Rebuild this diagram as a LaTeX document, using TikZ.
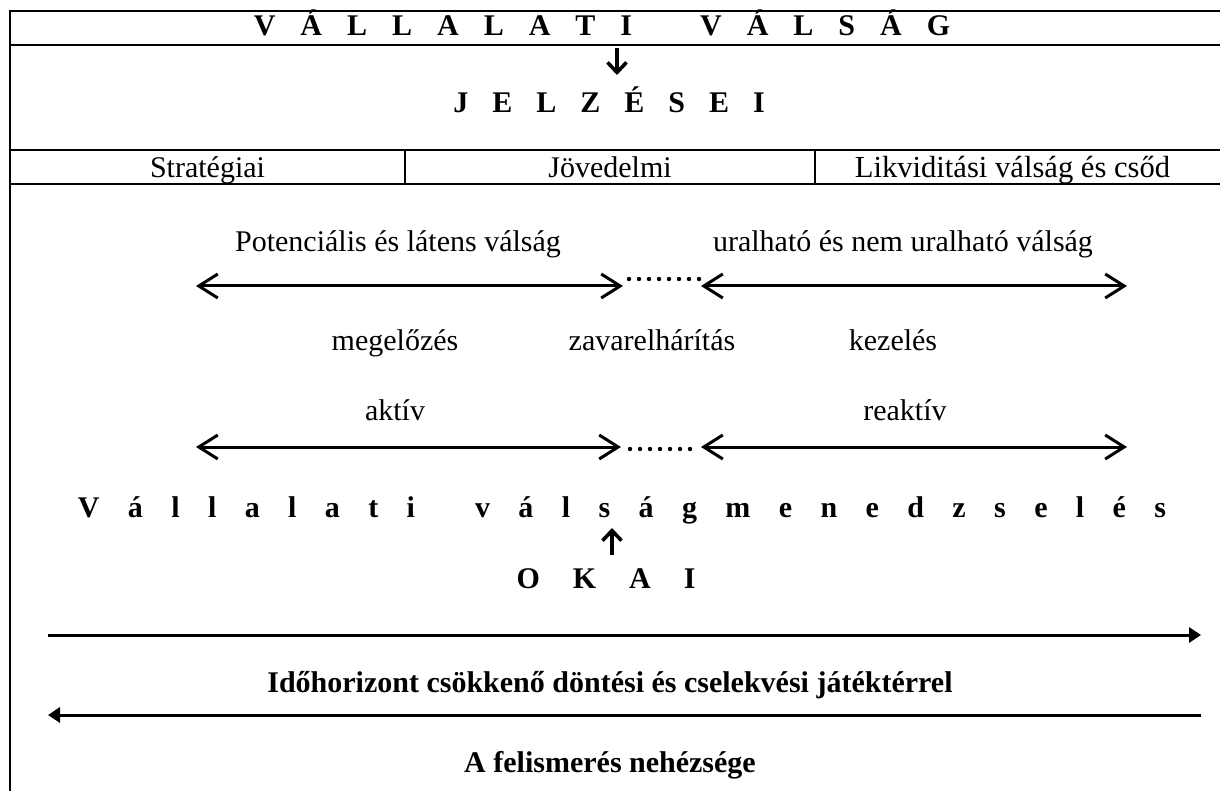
\documentclass[tikz,border=0pt]{standalone}
\usepackage{fontspec}
\setmainfont{Liberation Serif}
\usetikzlibrary{arrows.meta}
\newlength\lspw
\newcommand\lsp{\hspace{\lspw}}
\begin{document}
\begin{tikzpicture}[x=1pt,y=-1pt,
  rule/.style={line width=2.6pt},
  txt/.style={font=\fontsize{30}{36}\selectfont, inner sep=0pt, anchor=base},
  btxt/.style={font=\fontsize{30}{36}\selectfont\bfseries, inner sep=0pt, anchor=base},
  dbl/.style={line width=3pt, {Straight Barb[length=19pt,width=24pt]}-{Straight Barb[length=19pt,width=24pt]}},
  dots/.style={line width=4.4pt, line cap=round, dash pattern=on 0pt off 10pt},
  small/.style={line width=3.6pt, -{Straight Barb[length=10pt,width=19pt]}},
  long/.style={line width=3pt, -{Triangle[length=12pt,width=15pt]}}
]
\useasboundingbox (0,0) rectangle (1220,791);
% table rules
\draw[rule] (10,11) -- (1220,11);
\draw[rule] (10,45) -- (1220,45);
\draw[rule] (10,150) -- (1220,150);
\draw[rule] (10,184) -- (1220,184);
\draw[rule] (10,9.7) -- (10,791);
\draw[rule] (405,150) -- (405,184);
\draw[rule] (815,150) -- (815,184);

% title
\node[btxt] (title) at (602,36) {\setlength\lspw{25pt}V\lsp Á\lsp L\lsp L\lsp A\lsp L\lsp A\lsp T\lsp I\hspace{68pt}V\lsp Á\lsp L\lsp S\lsp Á\lsp G};
\coordinate (dtop) at (617,48);
\coordinate (dbot) at (617,75);
\draw[small] (dtop) -- (dbot);
\node[btxt] (jel) at (609,113) {\setlength\lspw{24pt}J\lsp E\lsp L\lsp Z\lsp É\lsp S\lsp E\lsp I};

% column headings
\node[txt] (strat) at (207.5,178) {Stratégiai};
\node[txt] (jov) at (610,178) {Jövedelmi};
\node[txt, font=\fontsize{30.6}{36}\selectfont] (likv) at (1012.5,178) {Likviditási válság és csőd};

% first arrow row
\node[txt] (pot) at (398,252) {Potenciális és látens válság};
\node[txt] (ural) at (903,252) {uralható és nem uralható válság};
\coordinate (a1l) at (196,286);
\coordinate (a1m) at (623,286);
\coordinate (a1n) at (701,286);
\coordinate (a1r) at (1127,286);
\draw[dbl] (a1l) -- (a1m);
\draw[dbl] (a1n) -- (a1r);
\coordinate (d1a) at (629,279);
\coordinate (d1b) at (700,279);
\draw[dots] (d1a) -- (d1b);

\node[txt] (meg) at (395,350) {megelőzés};
\node[txt] (zav) at (652,350) {zavarelhárítás};
\node[txt] (kez) at (893,350) {kezelés};

\node[txt] (akt) at (395,420) {aktív};
\node[txt] (reak) at (905,420) {reaktív};
\coordinate (a2l) at (196,447);
\coordinate (a2m) at (621,447);
\coordinate (a2n) at (701,447);
\coordinate (a2r) at (1127,447);
\draw[dbl] (a2l) -- (a2m);
\draw[dbl] (a2n) -- (a2r);
\coordinate (d2a) at (630,449);
\coordinate (d2b) at (691,449);
\draw[dots] (d2a) -- (d2b);

% crisis management
\node[btxt] (vm) at (622,517) {\setlength\lspw{28.4pt}V\lsp á\lsp l\lsp l\lsp a\lsp l\lsp a\lsp t\lsp i\hspace{60pt}v\lsp á\lsp l\lsp s\lsp á\lsp g\lsp m\lsp e\lsp n\lsp e\lsp d\lsp z\lsp s\lsp e\lsp l\lsp é\lsp s};
\coordinate (ubot) at (612,555);
\coordinate (utop) at (612,528);
\draw[small] (ubot) -- (utop);
\node[btxt] (okai) at (606,588) {\setlength\lspw{33pt}O\lsp K\lsp A\lsp I};

% time axis
\coordinate (t1l) at (48,635);
\coordinate (t1r) at (1201,635);
\draw[long] (t1l) -- (t1r);
\node[btxt] (ido) at (610,692) {Időhorizont csökkenő döntési és cselekvési játéktérrel};
\coordinate (t2r) at (1201,715);
\coordinate (t2l) at (48,715);
\draw[long] (t2r) -- (t2l);
\node[btxt] (fel) at (610,772) {A felismerés nehézsége};
\end{tikzpicture}
\end{document}
